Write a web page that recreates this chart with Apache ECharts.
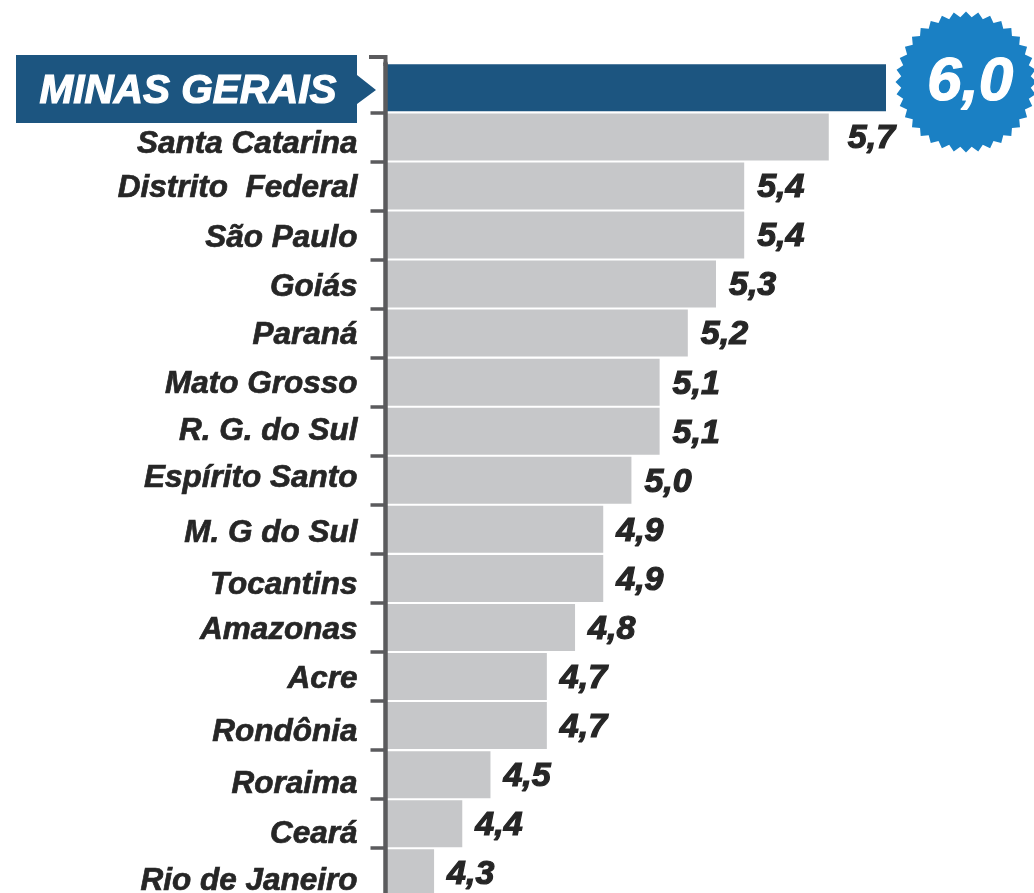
<!DOCTYPE html>
<html>
<head>
<meta charset="utf-8">
<style>html,body{margin:0;padding:0;background:#fff;overflow:hidden}#chart{width:1034px;height:893px}</style>
<script src="https://cdn.jsdelivr.net/npm/echarts@6/dist/echarts.min.js"></script>
</head>
<body>
<div id="chart"></div>
<script>
var categories = ["MINAS GERAIS", "Santa Catarina", "Distrito  Federal", "São Paulo", "Goiás", "Paraná", "Mato Grosso", "R. G. do Sul", "Espírito Santo", "M. G do Sul", "Tocantins", "Amazonas", "Acre", "Rondônia", "Roraima", "Ceará", "Rio de Janeiro"];
var values = [6.0, 5.7, 5.4, 5.4, 5.3, 5.2, 5.1, 5.1, 5.0, 4.9, 4.9, 4.8, 4.7, 4.7, 4.5, 4.4, 4.3];

// label drift in the original, px down from the band centre
var labelNudge = [4, 7, 2, 3, 3, 2, 2, 0, -2, 4, 7, 3, 3, 7, 10, 11, 9];

var labelFont = "'Liberation Sans'";

// starburst badge behind the 6,0
var badge = [];
for (var i = 0; i < 72; i++) {
    var r = i % 2 ? 65 : 70.5, a = i * Math.PI / 36;
    badge.push([966 + r * Math.sin(a), 82 - r * Math.cos(a)]);
}

// one rich style per row so each label can sit at its own height
var richRows = {};
labelNudge.forEach(function (n, i) {
    var pad = n >= 0 ? [n * 2, 0, 0, 0] : [0, 0, -n * 2, 0];
    richRows["r" + i] = i == 0
        ? { color: "#fff", textBorderColor: "#fff", textBorderWidth: 1.2, fontFamily: labelFont, fontWeight: "bold", fontStyle: "italic", fontSize: 40.5, padding: [n * 2, 21, 0, 0] }
        : { color: "#262626", textBorderColor: "#262626", textBorderWidth: 0.7, fontFamily: labelFont, fontWeight: "bold", fontStyle: "italic", fontSize: 31.5, padding: pad };
});

var dom = document.getElementById("chart"), myChart = echarts.init(dom);

var option = {
    animation: false,
    grid: { left: 387, top: 63.3, width: 499, height: 834, outerBoundsMode: "none" },
    xAxis: { type: "value", min: 4.133, max: 5.903, show: false },
    yAxis: {
        type: "category",
        inverse: true,
        offset: 1.5,
        z: 5,
        data: categories,
        axisLine: { lineStyle: { color: "#5b5b5d", width: 4.5 } },
        axisTick: {
            show: true,
            length: 15,
            lineStyle: { color: "#5b5b5d", width: 3.5 },
            interval: function (index) { return index > 0; }
        },
        axisLabel: {
            interval: 0,
            margin: 28,
            rich: richRows,
            formatter: function (name, i) { return "{r" + i + "|" + name + "}"; }
        }
    },
    series: [
        {
            type: "bar",
            barWidth: 47,
            data: values.map(function (v, i) {
                if (i == 0) return {
                    value: v,
                    itemStyle: { color: "#1c5580" },
                    label: { color: "#fff", textBorderColor: "#fff", fontSize: 62, distance: 41, offset: [0, -5] }
                };
                if (i == 1) return { value: v, label: { distance: 19 } };
                return v;
            }),
            itemStyle: { color: "#c6c7c9" },
            label: {
                show: true,
                position: "right",
                distance: 13,
                offset: [0, 2],
                color: "#262626",
                textBorderColor: "#262626",
                textBorderWidth: 1.2,
                fontFamily: labelFont,
                fontWeight: "bold",
                fontStyle: "italic",
                fontSize: 34,
                formatter: function (p) { return p.value.toFixed(1).replace(".", ","); }
            }
        }
    ],
    graphic: [
        { type: "polygon", z: 0, shape: { points: [[16, 55], [357, 55], [357, 75], [376, 90], [357, 104], [357, 123], [16, 123]] }, style: { fill: "#1c5580" } },
        { type: "polyline", z: 1, shape: { points: [[369, 57], [385.5, 57], [385.5, 66]] }, style: { fill: null, stroke: "#5b5b5d", lineWidth: 4 } },
        { type: "polygon", z: 0, shape: { points: badge }, style: { fill: "#1a80c4" } }
    ]
};
myChart.setOption(option);
</script>
</body>
</html>
